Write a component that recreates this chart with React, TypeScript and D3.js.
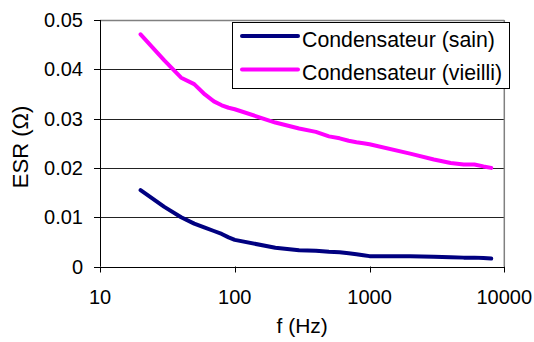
import React from "react";
import * as d3 from "d3";

const freqs = [20, 30, 40, 50, 60, 70, 80, 90, 100, 200, 300, 400, 500, 600, 700, 800, 900, 1000, 2000, 3000, 4000, 5000, 6000, 7000, 8000];
const sain = [0.0155, 0.0121, 0.0100, 0.0087, 0.0079, 0.0072, 0.0066, 0.0059, 0.0054, 0.0038, 0.0033, 0.0032, 0.0030, 0.0029, 0.0027, 0.0025, 0.0023, 0.0021, 0.0021, 0.0020, 0.0019, 0.0018, 0.0018, 0.0017, 0.0016];
const vieilli = [0.0471, 0.0418, 0.0383, 0.0370, 0.0349, 0.0335, 0.0327, 0.0322, 0.0319, 0.0292, 0.0280, 0.0273, 0.0264, 0.0260, 0.0255, 0.0252, 0.0250, 0.0248, 0.0229, 0.0217, 0.0210, 0.0207, 0.0207, 0.0203, 0.0200];
const seriesNames = ["Condensateur (sain)", "Condensateur (vieilli)"];
const seriesColors = ["#000080", "#FF00FF"];
const xTicks = [10, 100, 1000, 10000];
const yTicks = [0, 0.01, 0.02, 0.03, 0.04, 0.05];
const xTitle = "f (Hz)";
const yTitle = "ESR (\u03A9)";

export default function App() {
  const W = 534, H = 342;
  const left = 100, right = 504.3, top = 20, bottom = 266.5;
  const x = d3.scaleLog().domain([10, 10000]).range([left, right]);
  const y = d3.scaleLinear().domain([0, 0.05]).range([bottom, top]);
  const line = d3.line<number>().x((_, i) => x(freqs[i])).y((v) => y(v));
  const font = "'Liberation Sans', Arial, sans-serif";
  const all = [sain, vieilli];
  return (
    <svg width={W} height={H} style={{ position: "absolute", left: 0, top: 0, background: "#fff" }} fontFamily={font}>
      <rect x={0} y={0} width={W} height={H} fill="#fff" />
      {yTicks.slice(1, -1).map((t) => (
        <line key={t} x1={left} x2={right} y1={Math.round(y(t)) + 0.5} y2={Math.round(y(t)) + 0.5} stroke="#222" strokeWidth={1} />
      ))}
      <line x1={left} x2={right} y1={top + 0.5} y2={top + 0.5} stroke="#808080" strokeWidth={1.5} />
      <line x1={right} x2={right} y1={top} y2={bottom} stroke="#808080" strokeWidth={1.5} />
      <line x1={left + 0.5} x2={left + 0.5} y1={top} y2={bottom} stroke="#000" strokeWidth={1} />
      <line x1={left} x2={right} y1={Math.round(bottom) + 0.5} y2={Math.round(bottom) + 0.5} stroke="#000" strokeWidth={1} />
      {yTicks.map((t) => (
        <g key={t}>
          <line x1={left - 6} x2={left} y1={Math.round(y(t)) + 0.5} y2={Math.round(y(t)) + 0.5} stroke="#000" />
          <text x={83} y={y(t)} dy="0.35em" textAnchor="end" fontSize={20} fill="#000">{d3.format("")(t)}</text>
        </g>
      ))}
      {xTicks.map((t) => (
        <g key={t}>
          <line x1={Math.round(x(t)) + 0.5} x2={Math.round(x(t)) + 0.5} y1={bottom} y2={bottom + 6} stroke="#000" />
          <text x={x(t)} y={304} textAnchor="middle" fontSize={20} fill="#000">{t}</text>
        </g>
      ))}
      <text x={(left + right) / 2} y={333} textAnchor="middle" fontSize={21} fill="#000">{xTitle}</text>
      <text transform={`translate(28,147) rotate(-90)`} textAnchor="middle" fontSize={22} fill="#000">{yTitle}</text>
      {all.map((s, i) => (
        <path key={i} d={line(s) || ""} fill="none" stroke={seriesColors[i]} strokeWidth={4} strokeLinejoin="round" strokeLinecap="round" />
      ))}
      <rect x={232.5} y={22.5} width={277} height={66} fill="#fff" stroke="#000" strokeWidth={1} />
      {seriesNames.map((n, i) => (
        <g key={n}>
          <line x1={242} x2={298} y1={36 + i * 33.5} y2={36 + i * 33.5} stroke={seriesColors[i]} strokeWidth={4} strokeLinecap="round" />
          <text x={302} y={46.5 + i * 33.5} fontSize={21.3} fill="#000">{n}</text>
        </g>
      ))}
    </svg>
  );
}
